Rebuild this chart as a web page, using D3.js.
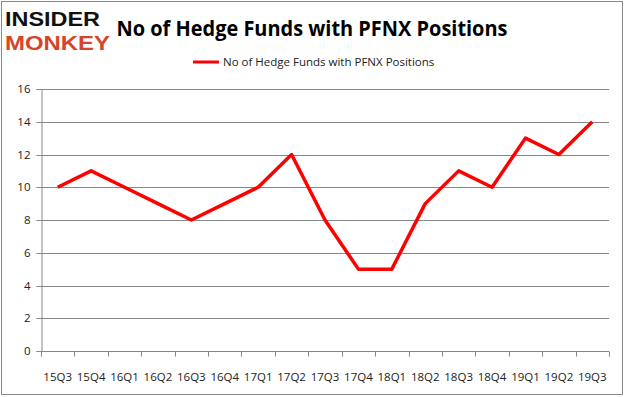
<!DOCTYPE html>
<html>
<head>
<meta charset="utf-8">
<script src="https://cdn.jsdelivr.net/npm/d3@7"></script>
<style>
  body { margin: 0; background: #fff; }
  #chart { width: 626px; height: 397px; }
</style>
</head>
<body>
<div id="chart"></div>
<script>
// chart data
var quarters = ["15Q3", "15Q4", "16Q1", "16Q2", "16Q3", "16Q4", "17Q1", "17Q2", "17Q3",
                "17Q4", "18Q1", "18Q2", "18Q3", "18Q4", "19Q1", "19Q2", "19Q3"];
var funds = [10, 11, 10, 9, 8, 9, 10, 12, 8, 5, 5, 9, 11, 10, 13, 12, 14];
var yTicks = [0, 2, 4, 6, 8, 10, 12, 14, 16];
var seriesName = "No of Hedge Funds with PFNX Positions";

function init() {
    var W = 626, H = 397;
    var margin = { top: 89, right: 17, bottom: 46, left: 41 },
        w = W - margin.left - margin.right,
        h = H - margin.top - margin.bottom;

    var root = d3.select("#chart")
        .append("svg")
        .attr("width", W)
        .attr("height", H);

    // outer border
    root.append("rect")
        .attr("x", 1.5).attr("y", 1.5)
        .attr("width", 621).attr("height", 393)
        .attr("fill", "#fff")
        .attr("stroke", "#898989")
        .attr("stroke-width", 1);

    // logo
    root.append("text")
        .attr("x", 5).attr("y", 26)
        .attr("textLength", 95)
        .attr("lengthAdjust", "spacingAndGlyphs")
        .style("font-family", "Liberation Sans, sans-serif")
        .style("font-weight", "bold")
        .style("font-size", "20.5px")
        .attr("fill", "#111")
        .text("INSIDER");
    root.append("text")
        .attr("x", 5).attr("y", 49.5)
        .attr("textLength", 105)
        .attr("lengthAdjust", "spacingAndGlyphs")
        .style("font-family", "Liberation Sans, sans-serif")
        .style("font-weight", "bold")
        .style("font-size", "20.5px")
        .attr("fill", "#d8432b")
        .text("MONKEY");

    // title
    root.append("text")
        .attr("x", 312).attr("y", 36)
        .attr("text-anchor", "middle")
        .attr("textLength", 391)
        .attr("lengthAdjust", "spacingAndGlyphs")
        .style("font-family", "Open Sans, sans-serif")
        .style("font-weight", "bold")
        .style("font-size", "22px")
        .attr("fill", "#000")
        .text("No of Hedge Funds with PFNX Positions");

    // legend
    var legend = root.append("g").attr("transform", "translate(193, 62)");
    legend.append("line")
        .attr("x1", 0).attr("x2", 26)
        .attr("stroke", "#ff0000")
        .attr("stroke-width", 3);
    legend.append("text")
        .attr("x", 30).attr("y", 4)
        .style("font-family", "Open Sans, sans-serif")
        .style("font-size", "11.5px")
        .attr("fill", "#222")
        .text(seriesName);

    var svg = root.append("g")
        .attr("transform", `translate(${margin.left},${margin.top})`);

    // scales
    var xScale = d3.scaleBand()
        .domain(quarters)
        .range([0, w]);

    var yScale = d3.scaleLinear()
        .domain([0, 16])
        .range([h, 0]);

    // gridlines
    svg.append("g")
        .selectAll("line")
        .data(yTicks.filter(d => d > 0))
        .enter()
        .append("line")
        .attr("x1", 0).attr("x2", w)
        .attr("y1", d => Math.round(yScale(d)) + 0.5)
        .attr("y2", d => Math.round(yScale(d)) + 0.5)
        .attr("stroke", "#878787")
        .attr("stroke-width", 1);

    // y axis
    var yAxis = svg.append("g")
        .attr("class", "y axis")
        .attr("transform", "translate(0.5,0)")
        .call(d3.axisLeft(yScale).tickValues(yTicks).tickSize(5).tickPadding(6));
    yAxis.selectAll("path, line").attr("stroke", "#878787");
    yAxis.selectAll(".tick").attr("transform", d => `translate(0,${Math.round(yScale(d)) + 0.5})`);
    yAxis.selectAll("text")
        .style("font-family", "Open Sans, sans-serif")
        .style("font-size", "11.5px")
        .attr("fill", "#222");

    // x axis, ticks on category boundaries
    var xAxis = svg.append("g")
        .attr("class", "x axis")
        .attr("transform", `translate(0, ${Math.round(h) + 0.5})`);
    xAxis.append("line")
        .attr("x1", 0).attr("x2", w)
        .attr("stroke", "#878787");
    xAxis.selectAll(".bound")
        .data(d3.range(quarters.length + 1))
        .enter()
        .append("line")
        .attr("class", "bound")
        .attr("x1", i => Math.round(i * xScale.step()) + 0.5)
        .attr("x2", i => Math.round(i * xScale.step()) + 0.5)
        .attr("y1", 0).attr("y2", 5)
        .attr("stroke", "#878787");
    xAxis.selectAll(".lbl")
        .data(quarters)
        .enter()
        .append("text")
        .attr("class", "lbl")
        .attr("x", d => xScale(d) + xScale.bandwidth() / 2)
        .attr("y", 29)
        .attr("text-anchor", "middle")
        .style("font-family", "Open Sans, sans-serif")
        .style("font-size", "11.5px")
        .attr("fill", "#222")
        .text(d => d);

    // the line
    var line = d3.line()
        .x((d, i) => xScale(quarters[i]) + xScale.bandwidth() / 2)
        .y(d => yScale(d));

    svg.append("path")
        .datum(funds)
        .attr("fill", "none")
        .attr("stroke", "#ff0000")
        .attr("stroke-width", 3.5)
        .attr("stroke-linejoin", "round")
        .attr("d", line);
}

window.onload = init;
</script>
</body>
</html>
